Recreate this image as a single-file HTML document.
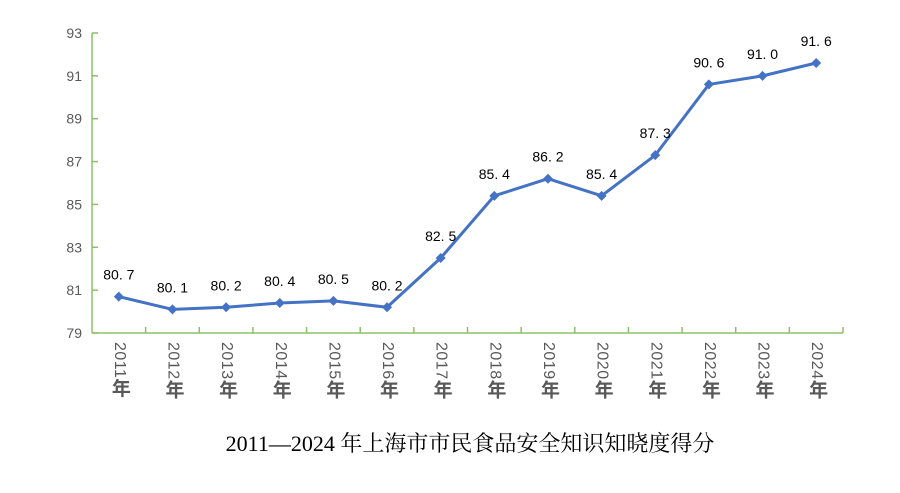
<!DOCTYPE html>
<html><head><meta charset="utf-8"><style>
body{margin:0;background:#fff;width:900px;height:493px;overflow:hidden;position:relative;font-family:"Liberation Sans","Noto Sans CJK SC",sans-serif}
svg{position:absolute;left:0;top:0}
.xl{position:absolute;writing-mode:vertical-rl;font-size:16px;color:#595959;top:342px;line-height:18px;letter-spacing:0.5px}
.xl b{font-size:19px;font-weight:bold}
.title{position:absolute;left:20px;width:900px;top:427px;text-align:center;font-family:"Liberation Serif","Noto Serif CJK SC",serif;font-size:22px;color:#000}
</style></head><body>
<svg id="chart" width="900" height="493"></svg>
<div class="title">2011—2024 年上海市市民食品安全知识知晓度得分</div>
<script>
const years=["2011","2012","2013","2014","2015","2016","2017","2018","2019","2020","2021","2022","2023","2024"];
const scores=[80.7,80.1,80.2,80.4,80.5,80.2,82.5,85.4,86.2,85.4,87.3,90.6,91.0,91.6];
const labels=["80. 7","80. 1","80. 2","80. 4","80. 5","80. 2","82. 5","85. 4","86. 2","85. 4","87. 3","90. 6","91. 0","91. 6"];
const yTicks=[79,81,83,85,87,89,91,93];
const NS="http://www.w3.org/2000/svg";
const svg=document.getElementById('chart');
const L=92,R=843,T=33,B=333,ymin=79,ymax=93;
const band=(R-L)/years.length;
const x=i=>L+band*(i+0.5);
const y=v=>B-(v-ymin)/(ymax-ymin)*(B-T);
function mk(t,a){const e=document.createElementNS(NS,t);for(const k in a)e.setAttribute(k,a[k]);svg.appendChild(e);return e;}
const ya=mk('line',{x1:L,y1:T,x2:L,y2:B,stroke:'#8cc068','stroke-width':1.5});


const xa=mk('line',{x1:L,y1:B,x2:R,y2:B,stroke:'#8cc068','stroke-width':1.5});


yTicks.forEach(v=>{
 const tk=mk('line',{x1:L,y1:y(v),x2:L+6,y2:y(v),stroke:'#8cc068','stroke-width':1.5});
 
 
 const t=mk('text',{x:L-10,y:y(v)+5,'text-anchor':'end','font-size':14,fill:'#595959'});
 t.textContent=v;
 
 
});
for(let i=1;i<=years.length;i++){
 const tk=mk('line',{x1:L+band*i,y1:B,x2:L+band*i,y2:B-6,stroke:'#8cc068','stroke-width':1.5});
 
 
}
const pl=mk('polyline',{points:scores.map((v,i)=>x(i)+','+y(v)).join(' '),fill:'none',stroke:'#4472c4','stroke-width':3,'stroke-linejoin':'round'});


scores.forEach((v,i)=>{
 const cx=x(i),cy=y(v);
 const m=mk('polygon',{points:`${cx},${cy-5} ${cx+5},${cy} ${cx},${cy+5} ${cx-5},${cy}`,fill:'#4472c4'});
 
 
 const t=mk('text',{x:cx,y:cy-17,'text-anchor':'middle','font-size':14,fill:'#000'});
 t.textContent=labels[i];
 
 
 const d=document.createElement('div');
 d.className='xl';d.innerHTML=years[i]+'<b>年</b>';
 d.style.left=(cx-9)+'px';
 
 
 document.body.appendChild(d);
});
</script>
</body></html>
